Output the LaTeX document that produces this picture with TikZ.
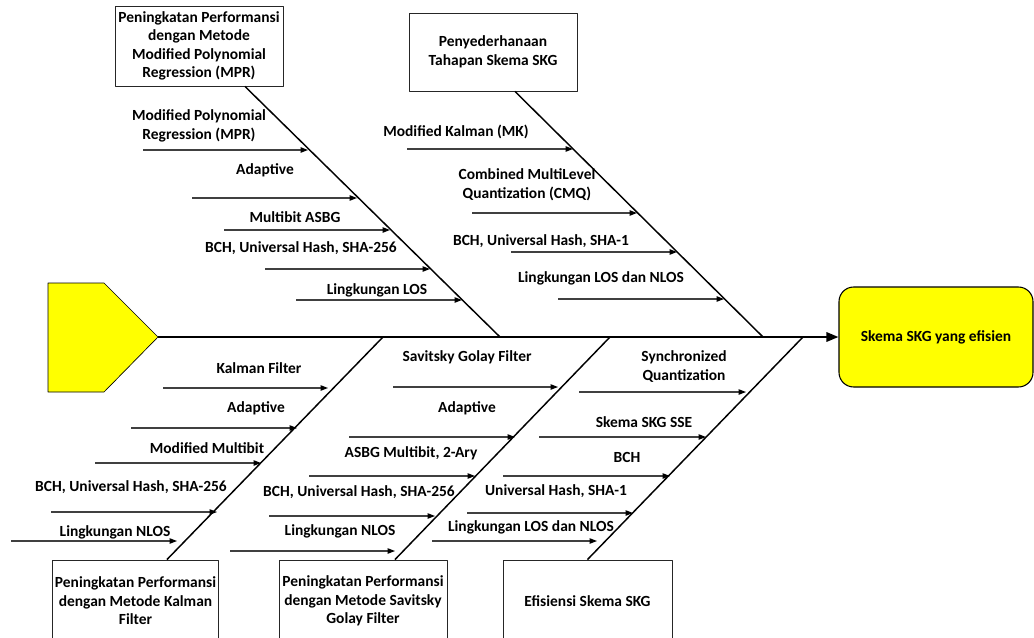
\documentclass[tikz,border=0pt]{standalone}
\usepackage{fontspec}
\setmainfont{Carlito}
\usetikzlibrary{arrows.meta}
\definecolor{headyellow}{RGB}{255,255,0}
\tikzset{
  txt/.style={font=\fontsize{11.6}{13.9}\selectfont\bfseries,align=center,inner sep=0pt},
  causebox/.style={txt,draw=black!85,line width=0.7pt,inner sep=1pt,minimum width=126pt},
  bone/.style={line width=1.1pt,black},
  sub/.style={line width=0.8pt,black!75,-{Triangle[length=5.5pt,width=4pt,color=black]}},
}
\begin{document}
\begin{tikzpicture}[x=0.75pt,y=-0.75pt,line join=round]
  \clip (0,0) rectangle (1034,638);
  % Head and tail.
  \draw[fill=headyellow,line width=0.5pt] (48,283)--(104,283)--(158,337)--(104,392)--(48,392)--cycle;
  \coordinate (tail) at (158,337);
  \node[txt,draw=black,fill=headyellow,line width=0.8pt,rounded corners=11pt,
        minimum width=145.5pt,minimum height=75pt] (effect) at (936,337) {Skema SKG yang efisien};
  \draw[line width=1.6pt,-{Triangle[length=9pt,width=7pt]}] (tail) -- (effect.west);
  % The five cause boxes.
  \node[causebox,minimum height=60pt] (mpr) at (199,46)
    {Peningkatan Performansi\\dengan Metode\\Modified Polynomial\\Regression (MPR)};
  \node[causebox,minimum height=58.5pt] (simp) at (493,52)
    {Penyederhanaan\\Tahapan Skema SKG};
  \node[causebox,minimum height=61.5pt,minimum width=125pt] (kf) at (135.5,601)
    {Peningkatan Performansi\\dengan Metode Kalman\\Filter};
  \node[causebox,minimum height=61.5pt] (sg) at (363,601)
    {Peningkatan Performansi\\dengan Metode Savitsky\\Golay Filter};
  \node[causebox,minimum height=61.5pt,minimum width=126.75pt] (eff) at (587.5,601)
    {Efisiensi Skema SKG};
  % Bones meeting the spine.
  \coordinate (s1) at (500,337);
  \coordinate (s2) at (763,337);
  \coordinate (s3) at (383,337);
  \coordinate (s4) at (610,337);
  \coordinate (s5) at (803,337);
  \draw[bone] ([xshift=34.5pt]mpr.south) -- (s1);
  \draw[bone] ([xshift=16.5pt]simp.south) -- (s2);
  \draw[bone] ([xshift=23.6pt]kf.north) -- (s3);
  \draw[bone] ([xshift=24pt]sg.north) -- (s4);
  \draw[bone] (eff.north) -- (s5);
  % Sub causes, bone 1.
  \foreach \n/\xs/\xe/\y in {1/143/308/150,2/192/357/198,3/224/390/230,4/265/430/269,5/296/462/300}{
    \coordinate (a\n s) at (\xs,\y);
    \coordinate (a\n e) at (\xe,\y);
    \draw[sub] (a\n s) -- (a\n e);
  }
  \node[txt] (a1) at (199,126) {Modified Polynomial\\Regression (MPR)};
  \node[txt] (a2) at (265,170) {Adaptive};
  \node[txt] (a3) at (295,217) {Multibit ASBG};
  \node[txt] (a4) at (301,248) {BCH, Universal Hash, SHA-256};
  \node[txt] (a5) at (377,290) {Lingkungan LOS};
  % Sub causes, bone 2.
  \foreach \n/\xs/\xe/\y in {1/407/573/149,2/472/637/213,3/511/677/252,4/558/724/299}{
    \coordinate (b\n s) at (\xs,\y);
    \coordinate (b\n e) at (\xe,\y);
    \draw[sub] (b\n s) -- (b\n e);
  }
  \node[txt] (b1) at (456,132) {Modified Kalman (MK)};
  \node[txt] (b2) at (527,184.5) {Combined MultiLevel\\Quantization (CMQ)};
  \node[txt] (b3) at (541,241) {BCH, Universal Hash, SHA-1};
  \node[txt] (b4) at (601,278) {Lingkungan LOS dan NLOS};
  % Sub causes, bone 3.
  \foreach \n/\xs/\xe/\y in {1/163/328/388,2/131/297/428,3/95/261/463,4/51/217/512,5/11/177/541}{
    \coordinate (c\n s) at (\xs,\y);
    \coordinate (c\n e) at (\xe,\y);
    \draw[sub] (c\n s) -- (c\n e);
  }
  \node[txt] (c1) at (259,368) {Kalman Filter};
  \node[txt] (c2) at (256,408) {Adaptive};
  \node[txt] (c3) at (207,448) {Modified Multibit};
  \node[txt] (c4) at (131,487) {BCH, Universal Hash, SHA-256};
  \node[txt] (c5) at (115,532) {Lingkungan NLOS};
  % Sub causes, bone 4.
  \foreach \n/\xs/\xe/\y in {1/393/558/387,2/349/515/437,3/309/475/476,4/269/435/516,5/230/395/551}{
    \coordinate (d\n s) at (\xs,\y);
    \coordinate (d\n e) at (\xe,\y);
    \draw[sub] (d\n s) -- (d\n e);
  }
  \node[txt] (d1) at (467,357) {Savitsky Golay Filter};
  \node[txt] (d2) at (467,408) {Adaptive};
  \node[txt] (d3) at (411,453) {ASBG Multibit, 2-Ary};
  \node[txt] (d4) at (359,492) {BCH, Universal Hash, SHA-256};
  \node[txt] (d5) at (340,531) {Lingkungan NLOS};
  % Sub causes, bone 5.
  \foreach \n/\xs/\xe/\y in {1/579/746/392,2/539/706/437,3/503/670/476,4/467/633/513,5/432/597/541}{
    \coordinate (e\n s) at (\xs,\y);
    \coordinate (e\n e) at (\xe,\y);
    \draw[sub] (e\n s) -- (e\n e);
  }
  \node[txt] (e1) at (684,366.5) {Synchronized\\Quantization};
  \node[txt] (e2) at (644,422) {Skema SKG SSE};
  \node[txt] (e3) at (627,457) {BCH};
  \node[txt] (e4) at (556,491) {Universal Hash, SHA-1};
  \node[txt] (e5) at (531,527) {Lingkungan LOS dan NLOS};
\end{tikzpicture}
\end{document}
